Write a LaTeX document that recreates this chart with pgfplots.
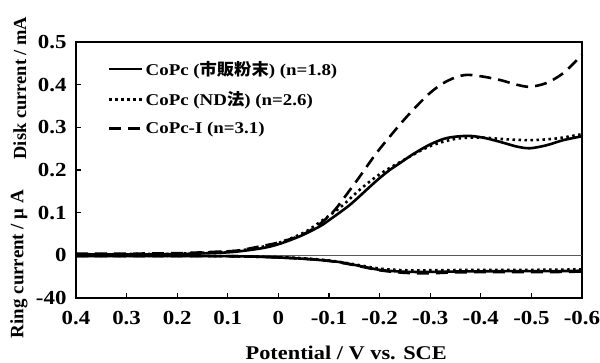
\documentclass[border=0pt]{standalone}
\usepackage{fontspec}
\setmainfont{Liberation Serif}
\newfontfamily\wide{Liberation Serif}[FakeStretch=1.15, BoldFeatures={FakeStretch=1.15}]
\newfontfamily\jp{Noto Sans CJK JP}[FakeStretch=1.05]
\usepackage{pgfplots}
\pgfplotsset{compat=1.18}
\newcommand\legfont{\wide\fontsize{16.5}{18}\selectfont\bfseries}
\begin{document}
\begin{tikzpicture}
\begin{axis}[
 at={(0,0)}, anchor=south west,
 scale only axis, width=506bp, height=256bp,
 x dir=reverse, xmin=-0.6, xmax=0.4, ymin=-0.1, ymax=0.5,
 xtick={-0.6,-0.5,-0.4,-0.3,-0.2,-0.1,0,0.1,0.2,0.3,0.4},
 xticklabels={-0.6,-0.5,-0.4,-0.3,-0.2,-0.1,0,0.1,0.2,0.3,0.4},
 ytick={-0.1,0,0.1,0.2,0.3,0.4,0.5},
 yticklabels={-40,0,0.1,0.2,0.3,0.4,0.5},
 tick align=inside, xtick pos=bottom, ytick pos=left,
 major tick length=5bp,
 every tick/.style={black, line width=1.3bp},
 axis line style={line width=1.9bp},
 ticklabel style={font=\wide\fontsize{20}{21}\selectfont\bfseries},
 xticklabel style={yshift=-10bp},
 yticklabel style={xshift=-6bp},
 xlabel={Potential / V vs. SCE},
 xlabel style={font=\wide\fontsize{19.5}{21}\selectfont\bfseries, at={(axis description cs:0.534,-0.215)}, anchor=center},
 ylabel={Disk current / mA},
 ylabel style={font=\fontsize{18.5}{20}\selectfont\bfseries, at={(axis description cs:-0.111,0.82)}, anchor=center},
 legend style={at={(axis description cs:0.063,0.934)}, anchor=north west, draw=none, fill=none,
   font=\legfont, nodes={font=\legfont}, row sep=11bp, inner sep=0pt, cells={anchor=west}},
 legend image code/.code={\draw[#1] (0bp,0bp) -- (33bp,0bp);},
 clip=false,
]
% zero line
\addplot[forget plot, color=black!65, line width=1.2bp] coordinates {(0.4,0) (-0.6,0)};
% disk currents
\addplot[black, line width=2.6bp, smooth] table {
x y
0.4 0.002
0.3 0.002
0.2 0.003
0.1 0.007
0.036 0.016
0 0.026
-0.043 0.045
-0.082 0.068
-0.102 0.084
-0.142 0.119
-0.181 0.161
-0.2 0.181
-0.22 0.200
-0.24 0.216
-0.266 0.237
-0.3 0.260
-0.333 0.275
-0.373 0.280
-0.404 0.276
-0.438 0.266
-0.471 0.255
-0.497 0.251
-0.53 0.258
-0.563 0.270
-0.6 0.279
};
\addlegendentry{\legfont CoPc ({\jp\bfseries 市販粉末}) (n=1.8)}
\addplot[black, line width=2.6bp, dash pattern=on 2.5bp off 3.5bp, smooth] table {
x y
0.4 0.003
0.3 0.003
0.2 0.004
0.1 0.009
0.05 0.016
0 0.029
-0.05 0.053
-0.082 0.078
-0.122 0.112
-0.161 0.154
-0.2 0.190
-0.25 0.225
-0.3 0.256
-0.35 0.273
-0.4 0.276
-0.45 0.272
-0.5 0.270
-0.55 0.274
-0.6 0.284
};
\addlegendentry{\legfont CoPc (ND{\jp\bfseries 法}) (n=2.6)}
\addplot[black, line width=2.6bp, dash pattern=on 12bp off 7bp, smooth] table {
x y
0.4 0.004
0.3 0.004
0.2 0.005
0.13 0.008
0.082 0.011
0.036 0.021
0 0.030
-0.043 0.046
-0.076 0.068
-0.109 0.103
-0.135 0.143
-0.161 0.185
-0.194 0.240
-0.227 0.288
-0.25 0.320
-0.275 0.352
-0.3 0.381
-0.325 0.403
-0.35 0.417
-0.373 0.423
-0.404 0.419
-0.438 0.411
-0.471 0.400
-0.497 0.395
-0.53 0.404
-0.563 0.427
-0.596 0.465
-0.6 0.470
};
\addlegendentry{\legfont CoPc-I (n=3.1)}
% ring currents
\addplot[forget plot, black, line width=2.6bp, smooth] table {
x y
0.4 -0.002
0.2 -0.002
0.1 -0.002
0.05 -0.003
0 -0.005
-0.05 -0.008
-0.082 -0.011
-0.122 -0.016
-0.161 -0.025
-0.2 -0.034
-0.24 -0.038
-0.28 -0.039
-0.35 -0.038
-0.45 -0.037
-0.55 -0.037
-0.6 -0.036
};
\addplot[forget plot, black, line width=2.6bp, dash pattern=on 2.5bp off 3.5bp, smooth] table {
x y
0.4 -0.001
0.2 -0.001
0.1 -0.002
0.05 -0.003
0 -0.004
-0.05 -0.007
-0.1 -0.012
-0.15 -0.021
-0.2 -0.031
-0.25 -0.035
-0.3 -0.035
-0.4 -0.034
-0.5 -0.034
-0.6 -0.033
};
\addplot[forget plot, black, line width=2.6bp, dash pattern=on 12bp off 7bp, smooth] table {
x y
0.4 -0.002
0.2 -0.002
0.1 -0.002
0.05 -0.003
0 -0.005
-0.05 -0.008
-0.1 -0.013
-0.15 -0.023
-0.2 -0.035
-0.25 -0.041
-0.3 -0.042
-0.35 -0.040
-0.45 -0.039
-0.55 -0.039
-0.6 -0.038
};
\node[rotate=90, anchor=center, font=\fontsize{19}{21}\selectfont\bfseries] at (axis description cs:-0.113,0.133) {Ring current / μ A};
\end{axis}
\pgfresetboundingbox
\path[use as bounding box] (-76bp,-65bp) rectangle (524bp,298bp);
\end{tikzpicture}
\end{document}
